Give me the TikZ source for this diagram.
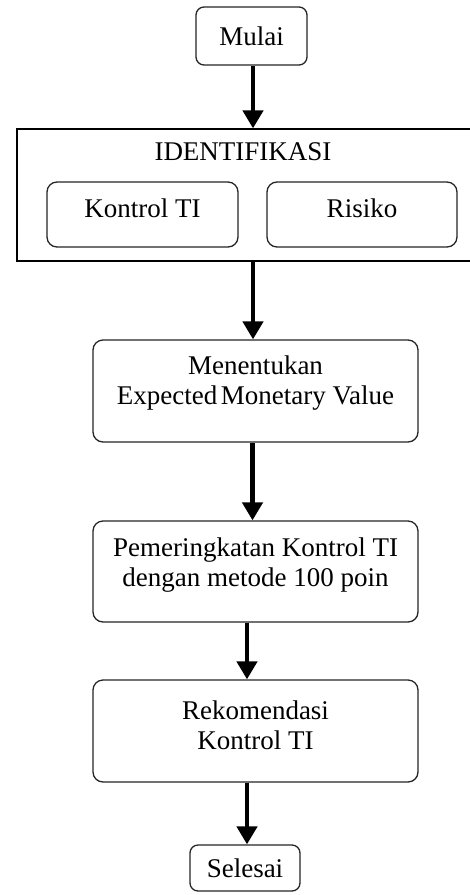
\documentclass[tikz,border=0pt]{standalone}
\usepackage{fontspec}
\setmainfont{Liberation Serif}
\usetikzlibrary{arrows.meta,positioning,calc}
\tikzset{
  txt/.style={font=\fontsize{27}{30}\selectfont, align=center, inner sep=0pt},
  rbox/.style={draw=black!85, line width=1.3pt, rounded corners=10pt, fill=white, inner sep=0pt},
  sbox/.style={draw=black!85, line width=1.3pt, rounded corners=8pt, fill=white, inner sep=0pt, font=\fontsize{27}{30}\selectfont},
  frame/.style={draw=black, line width=1.3pt, inner sep=0pt},
  flow/.style={line width=4.8pt, -{Triangle[length=18pt,width=20pt]}}
}
\begin{document}
\begin{tikzpicture}[x=1pt,y=-1pt]
\clip (0,0) rectangle (470,895);
\fill[white] (0,0) rectangle (470,895);
% start
\node[sbox, minimum width=111pt, minimum height=58pt] (mulai) at (251.5,36) {Mulai};
% identification frame
\node[frame, minimum width=458pt, minimum height=132pt] (outer) at (246,195) {};
\node[txt] (ident) at (243,152) {IDENTIFIKASI};
\node[rbox, minimum width=191pt, minimum height=65pt] (kti) at (142.5,214.5) {};
\node[txt] (ktit) at (142.5,208) {Kontrol TI};
\node[rbox, minimum width=190pt, minimum height=65pt] (ris) at (362,214.5) {};
\node[txt] (rist) at (362,208) {Risiko};
% process boxes
\node[rbox, minimum width=325pt, minimum height=102pt] (men) at (255.5,391) {};
\node[txt] (ment) at (255.5,383) {Menentukan\\Expected\hspace{-0.12em} Monetary Value};
\node[rbox, minimum width=325pt, minimum height=101pt] (pem) at (255.5,571.5) {};
\node[txt] (pemt) at (255.5,565) {Pemeringkatan Kontrol TI\\dengan metode 100 poin};
\node[rbox, minimum width=325pt, minimum height=102pt] (rek) at (255.5,731) {};
\node[txt] (rekt) at (255.5,725) {Rekomendasi\\Kontrol TI};
% end
\node[sbox, minimum width=110pt, minimum height=46pt] (sel) at (245,868) {Selesai};
% connectors
\draw[flow] ($(mulai.south)+(1.5,0)$) -- ($(mulai.south |- outer.north)+(1.5,0)$);
\draw[flow] ($(men.north |- outer.south)+(-2.5,0)$) -- ($(men.north)+(-2.5,0)$);
\draw[flow] ($(men.south)+(-3,0)$) -- ($(pem.north)+(-3,0)$);
\draw[flow] ($(sel.north |- pem.south)+(2,0)$) -- ($(sel.north |- rek.north)+(2,0)$);
\draw[flow] ($(sel.north |- rek.south)+(2,0)$) -- ($(sel.north)+(2,0)$);
\end{tikzpicture}
\end{document}
